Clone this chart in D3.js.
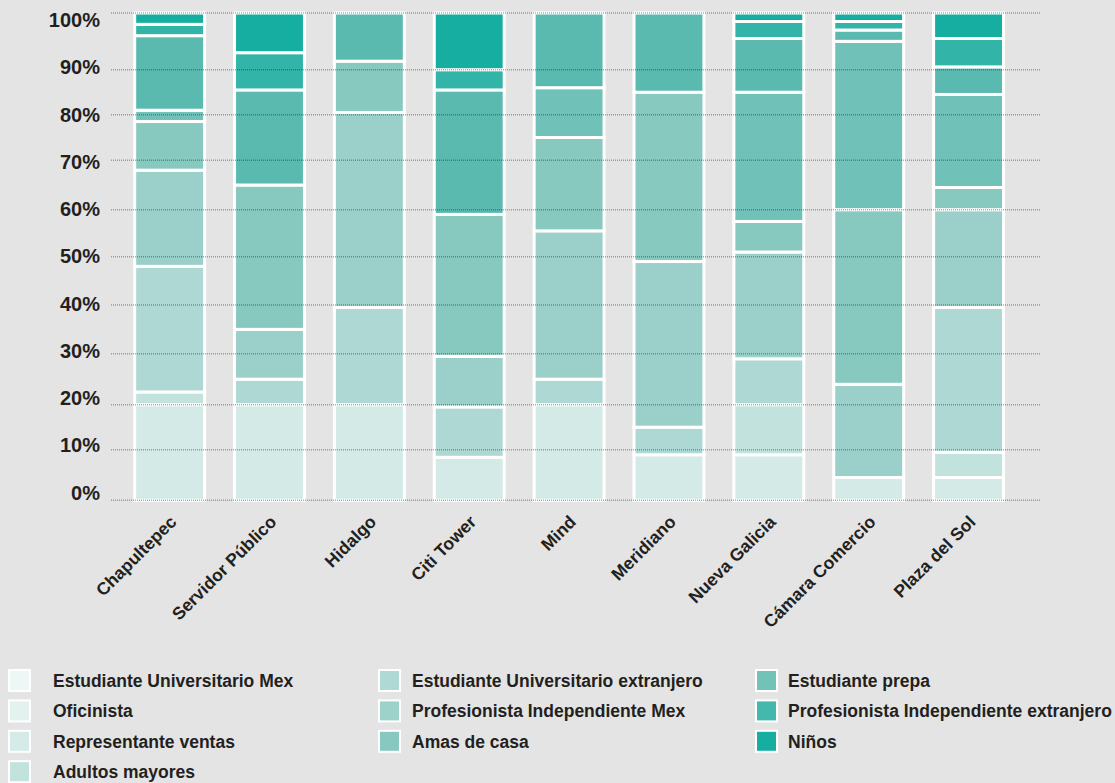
<!DOCTYPE html>
<html>
<head>
<meta charset="utf-8">
<script src="https://cdn.jsdelivr.net/npm/d3@7/dist/d3.min.js"></script>
<style>
  html, body { margin: 0; padding: 0; background: #e4e4e4; }
  svg { display: block; font-family: "Liberation Sans", Arial, sans-serif; font-weight: bold; }
</style>
</head>
<body>
<svg id="chart" width="1115" height="783"></svg>
<script>
// ---- data ----
const categories = ["Chapultepec", "Servidor Público", "Hidalgo", "Citi Tower", "Mind",
  "Meridiano", "Nueva Galicia", "Cámara Comercio", "Plaza del Sol"];

const seriesNames = [
  "Estudiante Universitario Mex",
  "Oficinista",
  "Representante ventas",
  "Adultos mayores",
  "Estudiante Universitario extranjero",
  "Profesionista Independiente Mex",
  "Amas de casa",
  "Estudiante prepa",
  "Profesionista Independiente extranjero",
  "Niños"
];

// values in %, one array per series, in category order
const estUnivMex   = [20, 20, 20, 8.5, 20, 9, 9, 4.5, 4.5];
const oficinista   = [2.5, 0, 0, 0, 0, 0, 11, 0, 5];
const repVentas    = [25.5, 5, 19.5, 11, 5, 6, 9, 0, 30];
const adultosMay   = [20, 10, 41, 10, 30.5, 34, 22, 19.5, 20.5];
const estUnivExt   = [10.5, 30, 11, 29.5, 19.5, 36, 6.5, 36, 4.5];
const profIndMex   = [2.5, 0, 0, 0, 11, 0, 27.5, 35, 20];
const amasCasa     = [15, 20.5, 8.5, 26.5, 14, 15, 10.5, 2, 6];
const estPrepa     = [0, 0, 0, 0, 0, 0, 0, 0, 0];
const profIndExt   = [2, 7.5, 0, 4.5, 0, 0, 3, 1.5, 5];
const ninos        = [2, 7, 0, 10, 0, 0, 1.5, 1.5, 4.5];

const seriesValues = [estUnivMex, oficinista, repVentas, adultosMay, estUnivExt,
  profIndMex, amasCasa, estPrepa, profIndExt, ninos];

const yTicks = [0, 10, 20, 30, 40, 50, 60, 70, 80, 90, 100];

// ---- styles ----
const barColors = ["#d4eae6", "#c2e2dd", "#aed8d3", "#9ad0c9", "#87c8bf",
  "#70c1b7", "#5bbab0", "#47b7ac", "#33b4a8", "#16aea0"];
const legendColors = ["#eff7f6", "#e3f2ef", "#d4ebe7", "#c2e2de", "#afd9d4",
  "#9cd2ca", "#87c9c0", "#72c2b8", "#44b8ac", "#16aea0"];
const textColor = "#231f20";

// ---- build ----
const svg = d3.select("#chart");
svg.append("rect").attr("width", 1115).attr("height", 783).attr("fill", "#e4e4e4");

const rows = categories.map((c, i) => {
  const r = { cat: c };
  seriesNames.forEach((s, k) => r[s] = seriesValues[k][i]);
  return r;
});
const stack = d3.stack().keys(seriesNames)(rows);

const x = d3.scaleBand().domain(categories).range([119.7, 1018.5])
  .paddingInner(0.3).paddingOuter(0.15);
const y = d3.scaleLinear().domain(yTicks)
  .range([500.3, 449.7, 404.7, 353.7, 305, 256.7, 209.7, 160.3, 114.7, 69.7, 13]);
const yLab = d3.scaleLinear().domain([0, 100]).range([492.5, 20]);

// bars
const g = svg.append("g");
stack.forEach((layer, k) => {
  g.selectAll(null)
    .data(layer.filter(d => d[1] - d[0] > 0))
    .join("rect")
    .attr("x", d => x(d.data.cat))
    .attr("width", x.bandwidth())
    .attr("y", d => y(d[1]))
    .attr("height", d => y(d[0]) - y(d[1]))
    .attr("fill", barColors[k])
    .attr("stroke", "#fff")
    .attr("stroke-width", 3);
});

// gridlines (on top)
svg.append("g").selectAll("line").data(yTicks).join("line")
  .attr("x1", 111).attr("x2", 1040)
  .attr("y1", d => y(d)).attr("y2", d => y(d))
  .attr("stroke", "#000").attr("stroke-opacity", 0.33)
  .attr("stroke-width", 1.5).attr("stroke-dasharray", "1,1");

// y labels
svg.append("g").selectAll("text").data(yTicks).join("text")
  .attr("x", 100).attr("y", d => yLab(d)).attr("dy", "0.36em")
  .attr("text-anchor", "end").attr("font-size", 20).attr("fill", textColor)
  .text(d => d + "%");

// x labels
svg.append("g").selectAll("text").data(categories).join("text")
  .attr("transform", d => `translate(${x(d) + x.bandwidth() / 2 + 8},523) rotate(-45)`)
  .attr("text-anchor", "end").attr("font-size", 17.5).attr("fill", textColor)
  .text(d => d);

// legend
const legCols = [[0, 1, 2, 3], [4, 5, 6], [7, 8, 9]];
const colSquareX = [9, 379, 756];
const colTextX = [53, 412, 788];
const leg = svg.append("g");
legCols.forEach((col, ci) => {
  col.forEach((si, ri) => {
    const cy = 680.5 + ri * 30.4;
    leg.append("rect")
      .attr("x", colSquareX[ci]).attr("y", cy - 10.5)
      .attr("width", 21).attr("height", 21)
      .attr("fill", legendColors[si]).attr("stroke", "#fff").attr("stroke-width", 2);
    leg.append("text")
      .attr("x", colTextX[ci]).attr("y", cy).attr("dy", "0.36em")
      .attr("font-size", 17.5).attr("fill", textColor)
      .text(seriesNames[si]);
  });
});
</script>
</body>
</html>
